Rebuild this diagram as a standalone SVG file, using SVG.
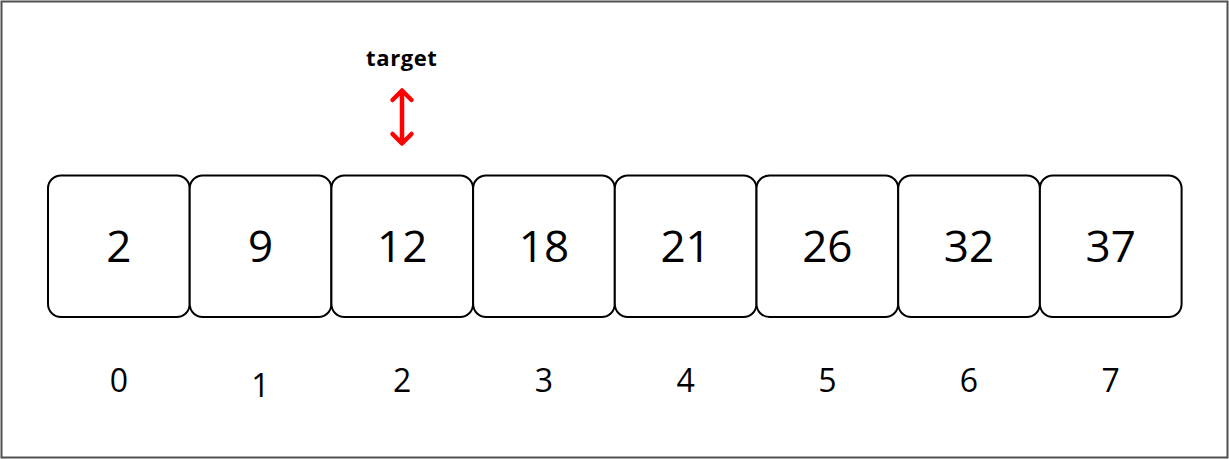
<svg xmlns="http://www.w3.org/2000/svg" width="1229" height="459" viewBox="0 0 1229 459">
<style>
.cell{fill:#ffffff;stroke:#000000;stroke-width:2}
.val{font-family:"Open Sans","Liberation Sans",sans-serif;font-size:44px;fill:#000;text-anchor:middle}
.idx{font-family:"Open Sans","Liberation Sans",sans-serif;font-size:32px;fill:#000;text-anchor:middle}
.lbl{font-family:"Open Sans","Liberation Sans",sans-serif;font-size:22px;font-weight:bold;letter-spacing:0.6px;fill:#000;text-anchor:middle}
.arr{fill:none;stroke:#ff0000;stroke-width:4.5;stroke-linecap:round;stroke-linejoin:round}
</style>
<rect x="0" y="0" width="1229" height="459" fill="#ffffff"/>
<rect x="1.5" y="1.5" width="1226" height="456" fill="none" stroke="#505050" stroke-width="2"/>
<g id="cell0"><rect class="cell" x="48" y="175.5" width="141.7" height="141.5" rx="13"/><text class="val" x="118.8" y="261.5">2</text><text class="idx" x="118.8" y="391.5">0</text></g>
<g id="cell1"><rect class="cell" x="189.7" y="175.5" width="141.7" height="141.5" rx="13"/><text class="val" x="260.5" y="261.5">9</text><text class="idx" x="260.5" y="396.5">1</text></g>
<g id="cell2"><rect class="cell" x="331.4" y="175.5" width="141.7" height="141.5" rx="13"/><text class="val" x="402.2" y="261.5">12</text><text class="idx" x="402.2" y="391.5">2</text></g>
<g id="cell3"><rect class="cell" x="473.1" y="175.5" width="141.7" height="141.5" rx="13"/><text class="val" x="543.9" y="261.5">18</text><text class="idx" x="543.9" y="391.5">3</text></g>
<g id="cell4"><rect class="cell" x="614.8" y="175.5" width="141.7" height="141.5" rx="13"/><text class="val" x="685.6" y="261.5">21</text><text class="idx" x="685.6" y="391.5">4</text></g>
<g id="cell5"><rect class="cell" x="756.5" y="175.5" width="141.7" height="141.5" rx="13"/><text class="val" x="827.3" y="261.5">26</text><text class="idx" x="827.3" y="391.5">5</text></g>
<g id="cell6"><rect class="cell" x="898.2" y="175.5" width="141.7" height="141.5" rx="13"/><text class="val" x="969" y="261.5">32</text><text class="idx" x="969" y="391.5">6</text></g>
<g id="cell7"><rect class="cell" x="1039.9" y="175.5" width="141.7" height="141.5" rx="13"/><text class="val" x="1110.7" y="261.5">37</text><text class="idx" x="1110.7" y="391.5">7</text></g>
<g id="target"><text class="lbl" x="401.8" y="66">target</text></g>
<g id="connectors">
<path class="arr" d="M402,91 V143 M392.5,100 L402,90.5 L411.5,100 M392.5,134 L402,143.5 L411.5,134"/>
</g>
</svg>
